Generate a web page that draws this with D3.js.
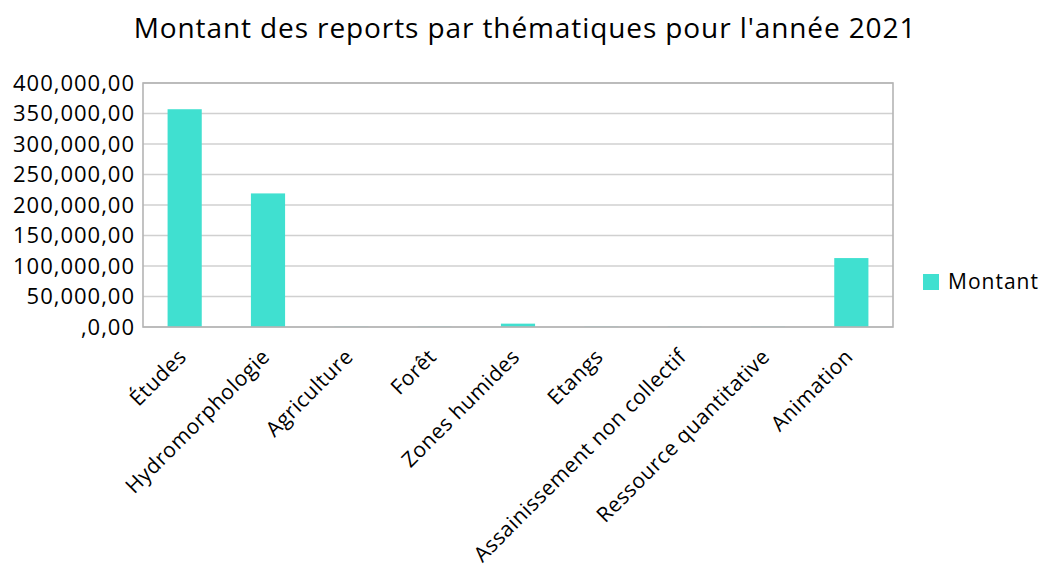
<!DOCTYPE html>
<html>
<head>
<meta charset="utf-8">
<title>Montant des reports</title>
<script src="https://d3js.org/d3.v7.min.js"></script>
<style>
  body { margin: 0; background: #fff; }
  text { font-family: "Open Sans", sans-serif; fill: #000; }
</style>
</head>
<body>
<div id="chart"></div>
<script>
// données
const categories = ["Études", "Hydromorphologie", "Agriculture", "Forêt", "Zones humides",
                    "Etangs", "Assainissement non collectif", "Ressource quantitative", "Animation"];
const montants = [357000, 219000, 400, 400, 5500, 400, 400, 400, 113000];
const yTicks = [0, 50000, 100000, 150000, 200000, 250000, 300000, 350000, 400000];
const yTickLabels = [",0,00", "50,000,00", "100,000,00", "150,000,00", "200,000,00",
                     "250,000,00", "300,000,00", "350,000,00", "400,000,00"];
const seriesName = "Montant";

const W = 1040, H = 565;
const margin = {top: 83, right: 147, bottom: 238, left: 143};
const w = W - margin.left - margin.right;
const h = H - margin.top - margin.bottom;

const svg = d3.select("#chart").append("svg")
    .attr("width", W).attr("height", H);

svg.append("text")
    .attr("x", 525).attr("y", 38)
    .attr("text-anchor", "middle")
    .attr("font-size", "28px")
    .attr("letter-spacing", "0.9px")
    .text("Montant des reports par thématiques pour l'année 2021");

const g = svg.append("g")
    .attr("transform", "translate(" + margin.left + "," + margin.top + ")");

const x = d3.scaleBand().domain(categories).range([0, w]).paddingInner(0.59).paddingOuter(0.295);
const y = d3.scaleLinear().domain([0, 400000]).range([h, 0]);

// grille
g.selectAll(".grid")
    .data(yTicks)
    .enter().append("line")
    .attr("x1", 0).attr("x2", w)
    .attr("y1", d => y(d)).attr("y2", d => y(d))
    .attr("stroke", "#d0d0d0").attr("stroke-width", 1.3);

// barres
g.selectAll(".bar")
    .data(montants)
    .enter().append("rect")
    .attr("x", (d, i) => x(categories[i]))
    .attr("width", x.bandwidth())
    .attr("y", d => y(d))
    .attr("height", d => h - y(d))
    .attr("fill", "#40e0d0");

// cadre
g.append("rect")
    .attr("x", 0).attr("y", 0).attr("width", w).attr("height", h)
    .attr("fill", "none").attr("stroke", "#b4b4b4").attr("stroke-width", 1.6);

// axe y
const yAxis = d3.axisLeft(y).tickValues(yTicks).tickSize(0).tickPadding(8)
    .tickFormat((d, i) => yTickLabels[i]);
g.append("g").call(yAxis)
    .call(s => s.select(".domain").remove())
    .selectAll("text")
    .style("font-family", "'Open Sans', sans-serif")
    .attr("font-size", "22px")
    .attr("letter-spacing", "1px")
    .attr("fill", "#000");

// axe x
const xAxis = d3.axisBottom(x).tickSize(0).tickPadding(0);
g.append("g")
    .attr("transform", "translate(0," + h + ")")
    .call(xAxis)
    .call(s => s.select(".domain").remove())
    .selectAll("text")
    .style("font-family", "'Open Sans', sans-serif")
    .attr("font-size", "21px")
    .attr("letter-spacing", "0.5px")
    .attr("fill", "#000")
    .attr("text-anchor", "end")
    .attr("dy", "0")
    .attr("transform", "translate(3,31) rotate(-45)");

// légende
const leg = svg.append("g").attr("transform", "translate(923,274)");
leg.append("rect").attr("width", 16).attr("height", 16).attr("fill", "#40e0d0");
leg.append("text").attr("x", 25).attr("y", 15).attr("font-size", "21px")
    .attr("letter-spacing", "1px").text(seriesName);
</script>
</body>
</html>
